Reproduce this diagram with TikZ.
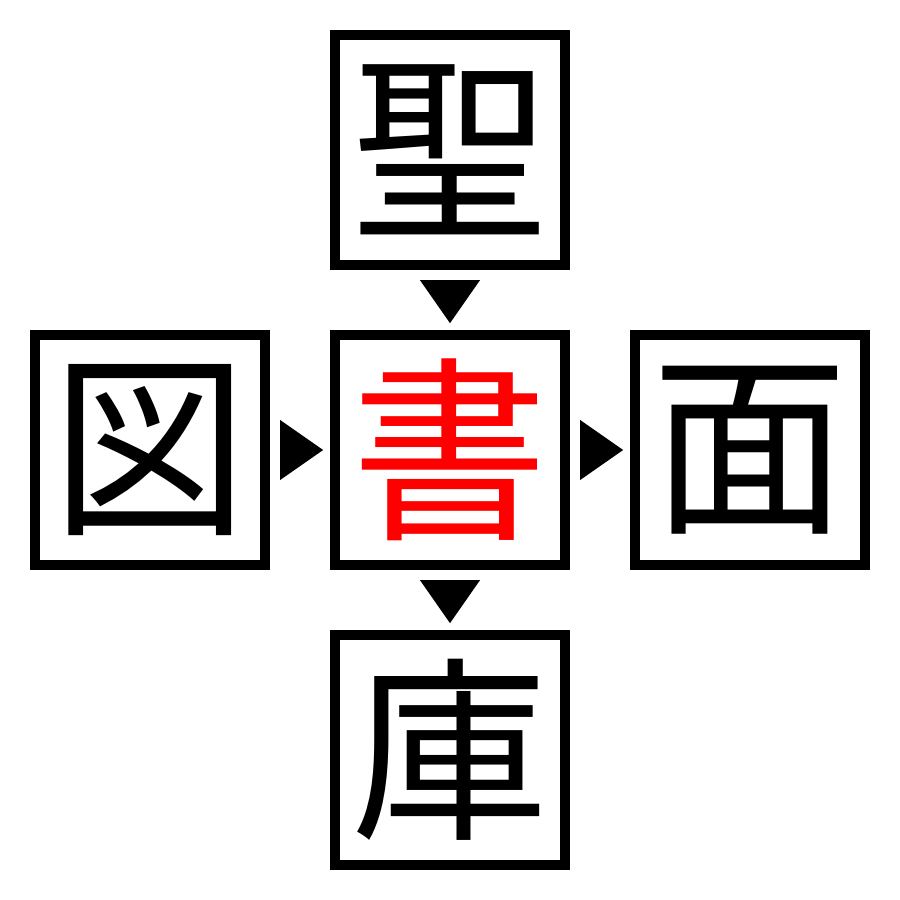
\documentclass[tikz,border=0pt]{standalone}
\usepackage{fontspec}
\newfontfamily\jpfont{Noto Sans CJK JP}
\usetikzlibrary{shapes.geometric, positioning, calc}

\begin{document}
\begin{tikzpicture}[>=stealth,
    kanji/.style={draw, line width=1mm, minimum size=2.3cm, inner sep=0pt,
      font=\jpfont\fontsize{56}{56}\selectfont},
    pointer/.style={isosceles triangle, isosceles triangle stretches, fill,
      draw=none, inner sep=0pt, minimum height=0.43cm, minimum width=0.6cm}]
      \useasboundingbox (-4.5, -4.5) rectangle (4.5, 4.5);

      \node[kanji, text=red] (sho) at (0, 0) {書};
      \node[kanji, above=0.6cm of sho] (sei) {聖};
      \node[kanji, left=0.6cm of sho] (zu) {図};
      \node[kanji, right=0.6cm of sho] (men) {面};
      \node[kanji, below=0.6cm of sho] (ko) {庫};

      % pointers into and out of the middle
      \node[pointer, rotate=-90, anchor=apex] (p1) at ($(sho.north)+(0, 0.05)$) {};
      \node[pointer, anchor=apex] (p2) at ($(sho.west)+(-0.05, 0)$) {};
      \node[pointer, anchor=apex] (p3) at ($(men.west)+(-0.05, 0)$) {};
      \node[pointer, rotate=-90, anchor=apex] (p4) at ($(ko.north)+(0, 0.05)$) {};
    \end{tikzpicture}
\end{document}
